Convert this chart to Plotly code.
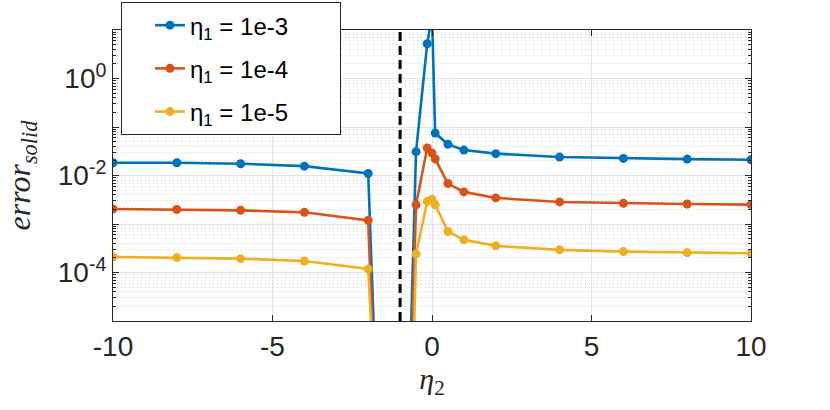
"""Solid error against eta_2 for three values of eta_1 (log scale)."""

import plotly.graph_objects as go

ETA2 = [-10, -8, -6, -4, -2, -1.5, -1, -0.5, -0.15, 0, 0.1, 0.5, 1, 2, 4, 6, 8, 10]

ERR_ETA1_1E3 = [0.0183, 0.0183, 0.0175, 0.0156, 0.011, 8.7e-12, 8e-14, 0.031,
                5.2, 20, 0.075, 0.044, 0.0334, 0.0282, 0.024, 0.0225, 0.0218, 0.0211]
ERR_ETA1_1E4 = [2.04e-3, 2.0e-3, 1.91e-3, 1.74e-3, 1.19e-3, 1.6e-12, 2.5e-14, 2.5e-3,
                0.037, 0.029, 0.022, 6.83e-3, 4.59e-3, 3.45e-3, 2.85e-3, 2.67e-3, 2.59e-3, 2.51e-3]
ERR_ETA1_1E5 = [2.09e-4, 2.03e-4, 1.93e-4, 1.73e-4, 1.18e-4, 6.8e-11, 8e-17, 2.4e-4,
                2.93e-3, 3.2e-3, 2.5e-3, 7.0e-4, 4.72e-4, 3.54e-4, 2.93e-4, 2.7e-4, 2.57e-4, 2.5e-4]

# trailing no-break spaces widen the legend box like the original
PAD = "\u00a0" * 7
SERIES_NAMES = [
    "η<sub>1</sub> = 1e-3" + PAD,
    "η<sub>1</sub> = 1e-4" + PAD,
    "η<sub>1</sub> = 1e-5" + PAD,
]
SERIES_COLORS = ["#0072BD", "#D95319", "#EDB120"]

SINGULAR_ETA2 = -1

Y_TICKVALS = [1e-5, 1e-4, 1e-3, 1e-2, 1e-1, 1, 10]
Y_TICKTEXT = ["", "10<sup>-4</sup>", "", "10<sup>-2</sup>", "", "10<sup>0</sup>", ""]
X_TICKVALS = [-10, -5, 0, 5, 10]
X_TICKTEXT = ["-10", "-5", "0", "5", "10"]

AXIS_COLOR = "#262626"


def build_figure() -> go.Figure:
    fig = go.Figure()

    for i, (name, color, err) in enumerate(
        zip(SERIES_NAMES, SERIES_COLORS, [ERR_ETA1_1E3, ERR_ETA1_1E4, ERR_ETA1_1E5])
    ):
        fig.add_trace(
            go.Scatter(
                x=ETA2,
                y=err,
                mode="lines+markers",
                name=name,
                legendgroup=f"g{i}",
                line=dict(color=color, width=2.6),
                marker=dict(color=color, size=9),
            )
        )

    # singularity marker
    fig.add_vline(
        x=SINGULAR_ETA2,
        line=dict(color="black", width=3, dash="9px,5px"),
    )

    fig.update_xaxes(
        range=[-10, 10],
        tickvals=X_TICKVALS,
        ticktext=X_TICKTEXT,
        ticks="inside",
        ticklen=6,
        tickcolor=AXIS_COLOR,
        showline=True,
        linecolor=AXIS_COLOR,
        linewidth=1,
        mirror="ticks",
        showgrid=True,
        gridcolor="#e3e3e3",
        zeroline=False,
        automargin=False,
        tickfont=dict(family="Liberation Sans, Arial", size=28, color=AXIS_COLOR),
        title=dict(
            text="<i>η</i><sub>2</sub>",
            font=dict(family="Liberation Serif, serif", size=30, color=AXIS_COLOR),
            standoff=0,
        ),
    )

    fig.update_yaxes(
        type="log",
        range=[-5, 1],
        tickvals=Y_TICKVALS,
        ticktext=Y_TICKTEXT,
        ticks="inside",
        ticklen=6,
        tickcolor=AXIS_COLOR,
        showline=True,
        linecolor=AXIS_COLOR,
        linewidth=1,
        mirror="ticks",
        showgrid=True,
        gridcolor="#e3e3e3",
        zeroline=False,
        automargin=False,
        minor=dict(
            dtick="D1",
            ticks="inside",
            ticklen=3,
            tickcolor=AXIS_COLOR,
            showgrid=True,
            gridcolor="#d0d0d0",
            griddash="1px,3px",
        ),
        tickfont=dict(family="Liberation Sans, Arial", size=28, color=AXIS_COLOR),
        title=dict(
            text="<i>error</i><sub><i>solid</i></sub>",
            font=dict(family="Liberation Serif, serif", size=32, color=AXIS_COLOR),
            standoff=17,
        ),
    )

    fig.update_layout(
        width=830,
        height=410,
        margin=dict(l=113, r=79, t=30, b=89, autoexpand=False),
        plot_bgcolor="white",
        paper_bgcolor="white",
        showlegend=True,
        legend=dict(
            x=0.0125,
            y=1.096,
            xanchor="left",
            yanchor="top",
            bgcolor="white",
            bordercolor=AXIS_COLOR,
            borderwidth=1,
            tracegroupgap=9,
            indentation=28,
            font=dict(family="Liberation Sans, Arial", size=24, color="black"),
        ),
    )
    return fig


def main():
    fig = build_figure()
    # drop the browser's default body margin so the 830x410 figure fills the window
    fig.write_html(
        "out.html",
        config={"displayModeBar": False},
        post_script="document.body.style.margin = '0';",
    )


if __name__ == "__main__":
    main()
